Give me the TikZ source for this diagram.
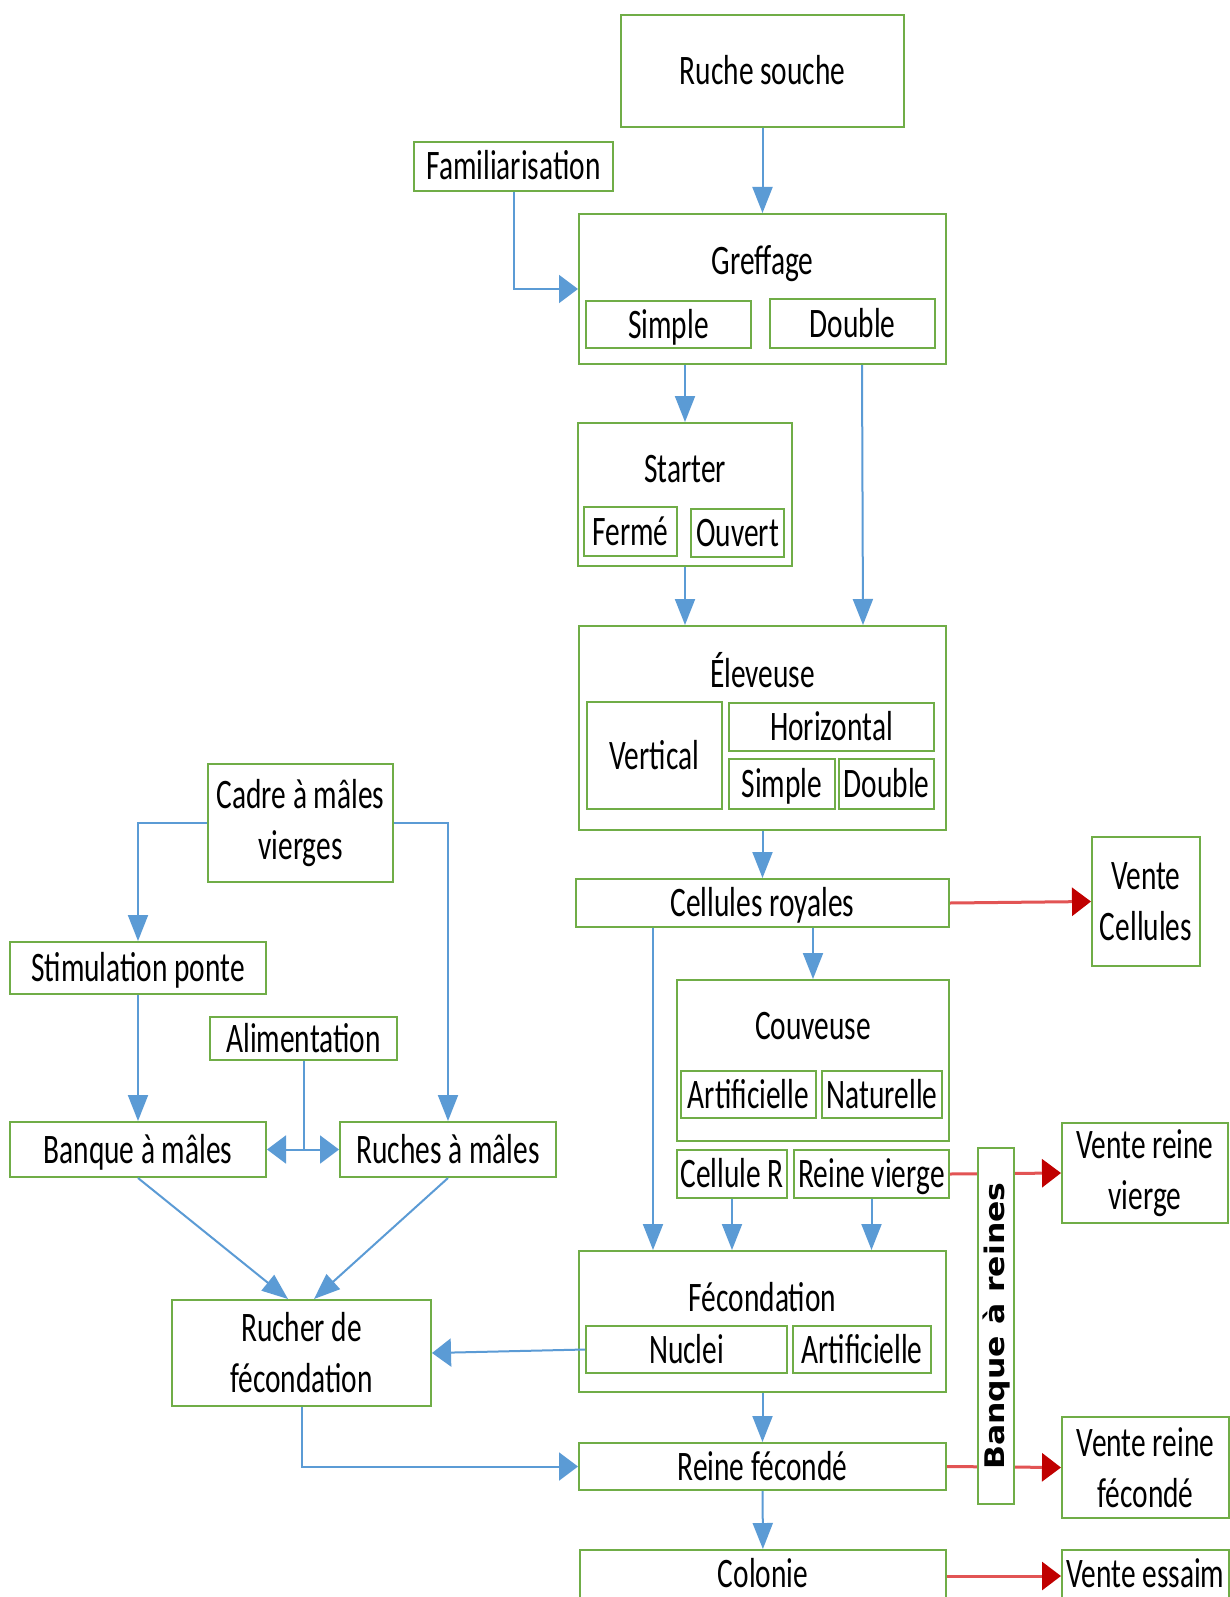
\documentclass[tikz,border=0pt]{standalone}
\usepackage{fontspec}
\usepackage{graphicx}
\setmainfont{Carlito}[FakeStretch=0.7]
\newfontfamily\banquefont{DejaVu Sans}[FakeStretch=1.08]
\usetikzlibrary{arrows.meta}
\definecolor{boxgreen}{RGB}{112,173,71}
\definecolor{flowblue}{RGB}{91,155,213}
\definecolor{salered}{RGB}{226,84,84}
\definecolor{saletip}{RGB}{192,0,0}
\tikzset{
  boxwh/.style 2 args={draw=boxgreen, line width=2pt, fill=white, inner sep=0pt, align=center,
    minimum width=#1, minimum height=#2, font=\fontsize{42pt}{51pt}\selectfont,
    text height=27pt, text depth=0pt},
  twolines/.style={text height={}, text depth={}},
  title/.style={inner sep=0pt, font=\fontsize{42pt}{51pt}\selectfont, text height=27pt, text depth=0pt},
  vflow/.style={draw=flowblue, line width=2pt, -{Triangle[length=26pt,width=20pt]}},
  hflow/.style={draw=flowblue, line width=2pt, -{Triangle[length=19pt,width=28pt]}},
  saleflow/.style={draw=salered, line width=3pt, -{Triangle[length=19pt,width=28pt,color=saletip]}}
}
\begin{document}
\begin{tikzpicture}[x=1pt,y=-1pt]
\useasboundingbox[fill=white] (0,0) rectangle (1230,1597);
\node[boxwh={283}{112}] (ruche) at (762.5,71) {Ruche souche};
\node[boxwh={199}{49}] (famil) at (513.5,166.5) {Familiarisation};
\node[boxwh={367}{150}] (greffage) at (762.5,289) {};
\node[title] (greffageT) at (762.5,261) {Greffage};
\node[boxwh={165}{47}] (gsimple) at (668.5,324.5) {Simple};
\node[boxwh={165}{49}] (gdouble) at (852.5,323.5) {Double};
\node[boxwh={214}{143}] (starter) at (685,494.5) {};
\node[title] (starterT) at (685,469) {Starter};
\node[boxwh={93}{49}] (ferme) at (630.5,531.5) {Fermé};
\node[boxwh={93}{48}] (ouvert) at (737.5,533) {Ouvert};
\node[boxwh={367}{204}] (eleveuse) at (762.5,728) {};
\node[title] (eleveuseT) at (762.5,674) {Éleveuse};
\node[boxwh={135}{107}] (vertical) at (654.5,755.5) {Vertical};
\node[boxwh={205}{48}] (horizontal) at (831.5,727) {Horizontal};
\node[boxwh={106}{50}] (esimple) at (782,784) {Simple};
\node[boxwh={95}{50}] (edouble) at (886.5,784) {Double};
\node[boxwh={373}{48}] (cellroy) at (762.5,903) {Cellules royales};
\node[boxwh={108}{129}, twolines] (ventecell) at (1146,901.5) {Vente\\Cellules};
\node[boxwh={272}{161}] (couveuse) at (813,1060.5) {};
\node[title] (couveuseT) at (813,1026) {Couveuse};
\node[boxwh={135}{47}] (cartif) at (748.5,1094.5) {Artificielle};
\node[boxwh={120}{47}] (cnat) at (882,1094.5) {Naturelle};
\node[boxwh={110}{48}] (celluler) at (732,1174) {Cellule R};
\node[boxwh={155}{48}] (reinev) at (871.5,1174) {Reine vierge};
\node[boxwh={166}{100}, twolines] (ventev) at (1145,1173) {Vente reine\\vierge};
\node[boxwh={367}{141}] (fecond) at (762.5,1321.5) {};
\node[title] (fecondT) at (762.5,1298) {Fécondation};
\node[boxwh={201}{47}] (nuclei) at (686.5,1349.5) {Nuclei};
\node[boxwh={138}{47}] (fartif) at (862,1349.5) {Artificielle};
\node[boxwh={367}{47}] (reinef) at (762.5,1466.5) {Reine fécondé};
\node[boxwh={167}{101}, twolines] (ventef) at (1145.5,1467.5) {Vente reine\\fécondé};
\node[boxwh={366}{52}] (colonie) at (763,1576) {};
\node[title] (colonieT) at (763,1574) {Colonie};
\node[boxwh={167}{52}] (venteess) at (1145.5,1576) {};
\node[title] (venteessT) at (1145.5,1574) {Vente essaim};
\node[boxwh={185}{118}, twolines] (cadre) at (300.5,823) {Cadre à mâles\\vierges};
\node[boxwh={256}{52}] (stim) at (138,968) {Stimulation ponte};
\node[boxwh={187}{43}] (alim) at (303.5,1038.5) {Alimentation};
\node[boxwh={256}{55}] (banque) at (138,1149.5) {Banque à mâles};
\node[boxwh={216}{55}] (ruches) at (448,1149.5) {Ruches à mâles};
\node[boxwh={259}{106}, twolines] (rucher) at (301.5,1353) {Rucher de\\fécondation};
\draw[vflow] (ruche) -- (greffage);
\draw[hflow] (famil.south) |- (greffage.west);
\draw[vflow] (starter.north |- greffage.south) -- (starter.north);
\draw[vflow] ([xshift=99.5pt]greffage.south) -- ([xshift=100.5pt]eleveuse.north);
\draw[vflow] (starter.south) -- (starter.south |- eleveuse.north);
\draw[vflow] (eleveuse) -- (cellroy);
\draw[saleflow] (cellroy.east) -- (ventecell.west);
\draw[vflow] (couveuse.north |- cellroy.south) -- (couveuse.north);
\draw[vflow] ([xshift=-109.5pt]cellroy.south) -- ([xshift=-109.5pt]fecond.north);
\draw[vflow] (celluler.south) -- (celluler.south |- fecond.north);
\draw[vflow] (reinev.south) -- (reinev.south |- fecond.north);
\draw[saleflow] (reinev.east) -- (ventev.west);
\draw[hflow] (nuclei.west) -- (rucher.east);
\draw[vflow] (fecond) -- (reinef);
\draw[hflow] (rucher.south) |- (reinef.west);
\draw[saleflow] (reinef.east) -- (ventef.west);
\draw[vflow] (reinef) -- (colonie);
\draw[saleflow] (colonie.east) -- (venteess.west);
\draw[vflow] (cadre.west) -| (stim.north);
\draw[vflow] (cadre.east) -| (ruches.north);
\draw[vflow] (stim) -- (banque);
\draw[hflow] (alim.south) |- (banque.east);
\draw[hflow] (alim.south) |- (ruches.west);
\draw[vflow] (banque.south) -- ([xshift=-13.5pt]rucher.north);
\draw[vflow] (ruches.south) -- ([xshift=12.5pt]rucher.north);
\node[boxwh={356}{36}, twolines, rotate=90, font=\banquefont\bfseries\fontsize{27pt}{30pt}\selectfont] (banquer) at (996,1326) {\scalebox{1.08}[1]{Banque à reines}};
\end{tikzpicture}
\end{document}
